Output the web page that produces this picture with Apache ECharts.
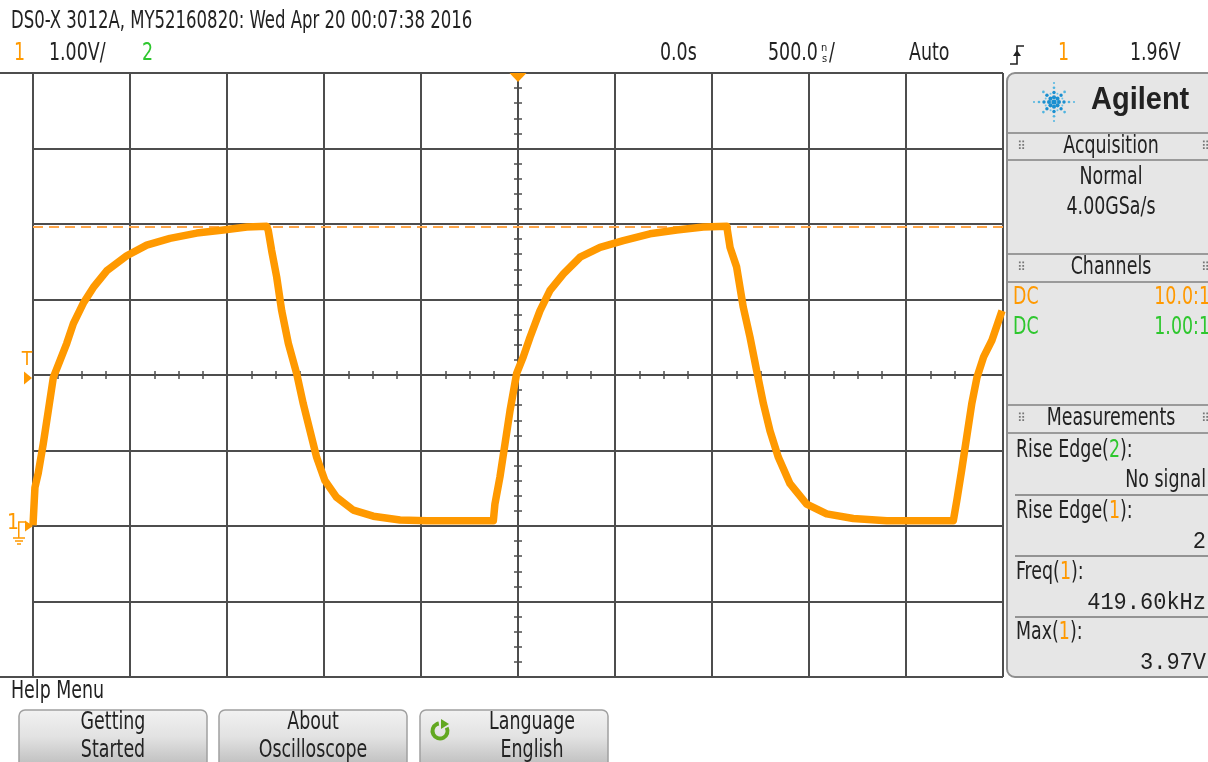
<!DOCTYPE html>
<html>
<head>
<meta charset="utf-8">
<script src="https://cdn.jsdelivr.net/npm/echarts@6/dist/echarts.min.js"></script>
<style>
  html, body { margin: 0; padding: 0; background: #fff; }
  #scope { width: 1208px; height: 762px; }
</style>
</head>
<body>
<div id="scope"></div>
<script>
// channel 1 trace: time in ns (500ns/div), level in volts (1V/div)
var timeNs = [
  -2500, -2490, -2473, -2447, -2421, -2395, -2361, -2326, -2292, -2241, -2189, -2120, -2017, -1914, -1794, -1656, -1519, -1398, -1295,
  -1287, -1270, -1244, -1218, -1184, -1141, -1107, -1072, -1038, -995, -935, -849, -746, -608, -471, -127,
  -119, -93, -67, -41, -7, 27, 62, 113, 165, 234, 320, 423, 543, 680, 818, 955, 1076,
  1093, 1127, 1161, 1196, 1230, 1265, 1299, 1342, 1402, 1488, 1591, 1728, 1901, 2244,
  2262, 2287, 2313, 2339, 2366, 2400, 2443, 2495
];
var ch1Volts = [
  0.01, 0.51, 0.70, 1.09, 1.53, 1.97, 2.19, 2.42, 2.68, 2.95, 3.16, 3.38, 3.58, 3.72, 3.81, 3.88, 3.92, 3.96, 3.97,
  3.91, 3.65, 3.30, 2.85, 2.42, 2.02, 1.62, 1.26, 0.91, 0.60, 0.38, 0.21, 0.13, 0.08, 0.07, 0.07,
  0.29, 0.65, 1.09, 1.53, 2.02, 2.24, 2.50, 2.85, 3.12, 3.34, 3.56, 3.69, 3.78, 3.87, 3.92, 3.96, 3.97,
  3.69, 3.43, 2.90, 2.50, 2.06, 1.62, 1.26, 0.91, 0.56, 0.29, 0.16, 0.10, 0.07, 0.07,
  0.34, 0.74, 1.18, 1.62, 1.97, 2.24, 2.46, 2.85
];
// screen scale
var timeRange = [-2500, 2500];   // 10 div
var voltRange = [-2, 6];         // 8 div, ground two divisions below centre
var triggerLevel = 1.96;
var maxLevel = 3.97;

// status texts
var headerText = 'DS0-X 3012A, MY52160820: Wed Apr 20 00:07:38 2016';
var acqLines = ['Normal', '4.00GSa/s'];
var measLabels = ['Rise Edge({g|2}):', 'Rise Edge({o|1}):', 'Freq({o|1}):', 'Max({o|1}):'];
var measValues = ['No signal', '2', '419.60kHz', '3.97V'];
var buttonLines = [['Getting', 'Started'], ['About', 'Oscilloscope'], ['Language', 'English']];

var ORANGE = '#ff9900';
var GREEN = '#2ec72e';
var GRID = '#4d4d4d';
var FONT = '"Liberation Sans Narrow", "DejaVu Sans Condensed", "Roboto", sans-serif';
var MONO = '"Liberation Mono", "DejaVu Sans Mono", monospace';

var trace = [];
for (var i = 0; i < timeNs.length; i++) {
  trace.push([timeNs[i], ch1Volts[i]]);
}

function txt(x, y, s, o) {
  o = o || {};
  var st = {
    text: s, fill: o.fill || '#222',
    font: (o.weight || 'normal') + ' ' + (o.size || 22) + 'px ' + (o.family || FONT),
    align: o.align || 'left', textAlign: o.align || 'left',
    verticalAlign: 'middle', textVerticalAlign: 'middle'
  };
  if (o.rich) st.rich = o.rich;
  return { type: 'text', x: x, y: y, scaleX: o.scaleX || 0.88, scaleY: o.scaleY || 1.12, style: st, z: 10 };
}
function hline(x1, x2, y, color, w) {
  return { type: 'line', shape: { x1: x1, y1: y, x2: x2, y2: y }, style: { stroke: color, lineWidth: w }, z: 9 };
}

var rich = {
  g: { fill: GREEN, color: GREEN, font: '22px ' + FONT },
  o: { fill: ORANGE, color: ORANGE, font: '22px ' + FONT }
};

var graphics = [];
// top status lines
graphics.push(txt(11, 22, headerText, { scaleX: 0.835 }));
graphics.push(txt(14, 54, '1', { fill: ORANGE }));
graphics.push(txt(49, 54, '1.00V/'));
graphics.push(txt(142, 54, '2', { fill: GREEN }));
graphics.push(txt(660, 54, '0.0s'));
graphics.push(txt(768, 54, '500.0'));
graphics.push(txt(821, 48, 'n', { size: 11, scaleX: 1, scaleY: 1 }));
graphics.push(txt(822, 59, 's', { size: 11, scaleX: 1, scaleY: 1 }));
graphics.push(txt(829, 54, '/'));
graphics.push(txt(909, 54, 'Auto'));
graphics.push({ type: 'polyline', shape: { points: [[1010, 64], [1017, 64], [1017, 46], [1024, 46]] },
  style: { stroke: '#222', lineWidth: 1.6, fill: null }, z: 10 });
graphics.push({ type: 'polygon', shape: { points: [[1013, 56], [1021, 56], [1017, 50]] }, style: { fill: '#222' }, z: 10 });
graphics.push(txt(1058, 54, '1', { fill: ORANGE }));
graphics.push(txt(1130, 54, '1.96V'));

// frame extensions to the left of the graticule
graphics.push(hline(0, 34, 73, GRID, 2));
graphics.push(hline(0, 34, 677, GRID, 2));

// side panel
graphics.push({ type: 'rect', shape: { x: 1007, y: 73, width: 215, height: 604, r: 8 },
  style: { fill: '#e6e6e6', stroke: '#8e8e8e', lineWidth: 2 }, z: 8 });
[133, 160, 254, 282, 405, 433].forEach(function (y) { graphics.push(hline(1008, 1208, y, '#9a9a9a', 2)); });
[495, 556, 617].forEach(function (y) { graphics.push(hline(1015, 1208, y, '#777', 1.5)); });

// Agilent spark logo
(function () {
  var cx = 1054, cy = 102;
  for (var a = 0; a < 8; a++) {
    var ang = a * Math.PI / 4;
    var n = (a % 2 === 0) ? 4 : 3;
    for (var k = 1; k <= n; k++) {
      var r = k * 5;
      graphics.push({ type: 'circle', shape: { cx: cx + r * Math.cos(ang), cy: cy + r * Math.sin(ang) * 0.95, r: 2.4 - k * 0.35 },
        style: { fill: k < 3 ? '#1a8fd0' : '#4fb4e0' }, z: 10 });
    }
    var ang2 = ang + Math.PI / 8;
    graphics.push({ type: 'circle', shape: { cx: cx + 9 * Math.cos(ang2), cy: cy + 9 * Math.sin(ang2), r: 1 },
      style: { fill: '#6cc3e8' }, z: 10 });
  }
  graphics.push({ type: 'circle', shape: { cx: cx, cy: cy, r: 2.6 }, style: { fill: '#1a8fd0' }, z: 10 });
})();
graphics.push(txt(1091, 101, 'Agilent', { size: 29, weight: 'bold', family: '"Liberation Sans", Arial, sans-serif', scaleX: 1, scaleY: 1.05 }));

// section headers
[[147, 'Acquisition'], [268, 'Channels'], [419, 'Measurements']].forEach(function (h) {
  graphics.push(txt(1111, h[0], h[1], { align: 'center' }));
  graphics.push(txt(1017, h[0], '\u283F', { size: 12, fill: '#777', family: '"DejaVu Sans"', scaleX: 1, scaleY: 1 }));
  graphics.push(txt(1201, h[0], '\u283F', { size: 12, fill: '#777', family: '"DejaVu Sans"', scaleX: 1, scaleY: 1 }));
});
graphics.push(txt(1111, 178, acqLines[0], { align: 'center' }));
graphics.push(txt(1111, 208, acqLines[1], { align: 'center' }));
graphics.push(txt(1013, 298, 'DC', { fill: ORANGE }));
graphics.push(txt(1210, 298, '10.0:1', { fill: ORANGE, align: 'right' }));
graphics.push(txt(1013, 328, 'DC', { fill: GREEN }));
graphics.push(txt(1210, 328, '1.00:1', { fill: GREEN, align: 'right' }));
var measY = [451, 512, 573, 633];
for (var m = 0; m < measLabels.length; m++) {
  graphics.push(txt(1016, measY[m], measLabels[m], { rich: rich }));
  var isMono = m > 0;
  graphics.push(txt(1206, measY[m] + 30, measValues[m], {
    align: 'right', family: isMono ? MONO : FONT, size: 22,
    scaleX: isMono ? 1 : 0.88, scaleY: isMono ? 1.05 : 1.12
  }));
}

// help menu + soft keys
graphics.push(txt(11, 692, 'Help Menu'));
var keyX = [19, 219, 420];
for (var b = 0; b < 3; b++) {
  graphics.push({ type: 'rect', shape: { x: keyX[b], y: 710, width: 188, height: 60, r: 6 },
    style: {
      fill: { type: 'linear', x: 0, y: 0, x2: 0, y2: 1, colorStops: [
        { offset: 0, color: '#f2f2f2' }, { offset: 0.45, color: '#e2e2e2' }, { offset: 1, color: '#b8b8b8' }] },
      stroke: '#a0a0a0', lineWidth: 1.5 }, z: 8 });
  var cxk = keyX[b] + 94 + (b === 2 ? 18 : 0);
  graphics.push(txt(cxk, 723, buttonLines[b][0], { align: 'center' }));
  graphics.push(txt(cxk, 751, buttonLines[b][1], { align: 'center' }));
}
graphics.push({ type: 'arc', shape: { cx: 440, cy: 731, r: 7.5, startAngle: -Math.PI * 0.15, endAngle: Math.PI * 1.45 },
  style: { stroke: '#62a820', lineWidth: 4, fill: null }, z: 10 });
graphics.push({ type: 'polygon', shape: { points: [[441, 719], [449, 724], [441, 729]] }, style: { fill: '#62a820' }, z: 10 });

var groundPath = 'path://M5,0h7v1.5h-7z M5,0h1.5v16h-1.5z M0,16h12v1.5h-12z M2,19h8v1.5h-8z M4,22h4v1.5h-4z';

function axisStyle(extra) {
  var base = {
    type: 'value',
    axisLabel: { show: false },
    axisLine: { show: true, onZero: true, lineStyle: { color: GRID, width: 2 } },
    axisTick: { show: true, inside: true, length: 4, lineStyle: { color: GRID, width: 1.5 } },
    minorTick: { show: true, length: 4, lineStyle: { color: GRID, width: 1.5 } },
    splitLine: { show: false }
  };
  return echarts.util.merge(base, extra, true);
}

var option = {
  animation: false,
  backgroundColor: '#ffffff',
  grid: { left: 33, top: 73, width: 970, height: 604, show: false },
  xAxis: [
    axisStyle({ min: timeRange[0], max: timeRange[1], interval: 500, position: 'bottom',
      axisLine: { onZeroAxisIndex: 2 }, minorTick: { splitNumber: 4 },
      splitLine: { show: true, lineStyle: { color: GRID, width: 2 } } }),
    axisStyle({ min: timeRange[0], max: timeRange[1], interval: 500, position: 'top',
      axisLine: { onZeroAxisIndex: 2 }, minorTick: { splitNumber: 4 } })
  ],
  yAxis: [
    axisStyle({ min: voltRange[0], max: voltRange[1], interval: 1, position: 'left',
      axisLine: { onZeroAxisIndex: 0 }, minorTick: { splitNumber: 5 },
      splitLine: { show: true, lineStyle: { color: GRID, width: 2 } } }),
    axisStyle({ min: voltRange[0], max: voltRange[1], interval: 1, position: 'right',
      axisLine: { onZeroAxisIndex: 0 }, minorTick: { splitNumber: 5 } }),
    { type: 'value', min: -4, max: 4, show: false }
  ],
  graphic: graphics,
  series: [{
    type: 'line',
    xAxisIndex: 0,
    yAxisIndex: 0,
    data: trace,
    symbol: 'none',
    clip: false,
    z: 5,
    lineStyle: { color: ORANGE, width: 7.5, join: 'round' },
    markLine: {
      silent: true,
      symbol: 'none',
      label: { show: false },
      lineStyle: { color: '#ffa64a', type: [10, 6], width: 2 },
      data: [{ yAxis: maxLevel }]
    },
    markPoint: {
      silent: true,
      data: [
        { coord: [0, voltRange[1]], symbol: 'triangle', symbolRotate: 180, symbolSize: [17, 9], symbolOffset: [0, 4.5],
          itemStyle: { color: ORANGE }, label: { show: false } },
        { coord: [timeRange[0], triggerLevel], symbol: 'triangle', symbolRotate: -90, symbolSize: [13, 8], symbolOffset: [-5, 0],
          itemStyle: { color: ORANGE }, label: { show: false } },
        { coord: [timeRange[0], triggerLevel], symbol: 'circle', symbolSize: 1, itemStyle: { color: 'rgba(0,0,0,0)' },
          label: { show: true, formatter: 'T', position: 'inside', offset: [-6, -18], color: ORANGE, fontSize: 19, fontFamily: FONT } },
        { coord: [timeRange[0], 0], symbol: 'triangle', symbolRotate: -90, symbolSize: [11, 8], symbolOffset: [-4, 0],
          itemStyle: { color: ORANGE }, label: { show: false } },
        { coord: [timeRange[0], 0], symbol: 'circle', symbolSize: 1, itemStyle: { color: 'rgba(0,0,0,0)' },
          label: { show: true, formatter: '1', position: 'inside', offset: [-20, -2], color: ORANGE, fontSize: 21, fontFamily: FONT } },
        { coord: [timeRange[0], 0], symbol: groundPath, symbolSize: [12, 23.5], symbolOffset: [-14, 7],
          itemStyle: { color: ORANGE }, label: { show: false } }
      ]
    }
  }]
};

var chart = echarts.init(document.getElementById('scope'));
chart.setOption(option);
</script>
</body>
</html>
